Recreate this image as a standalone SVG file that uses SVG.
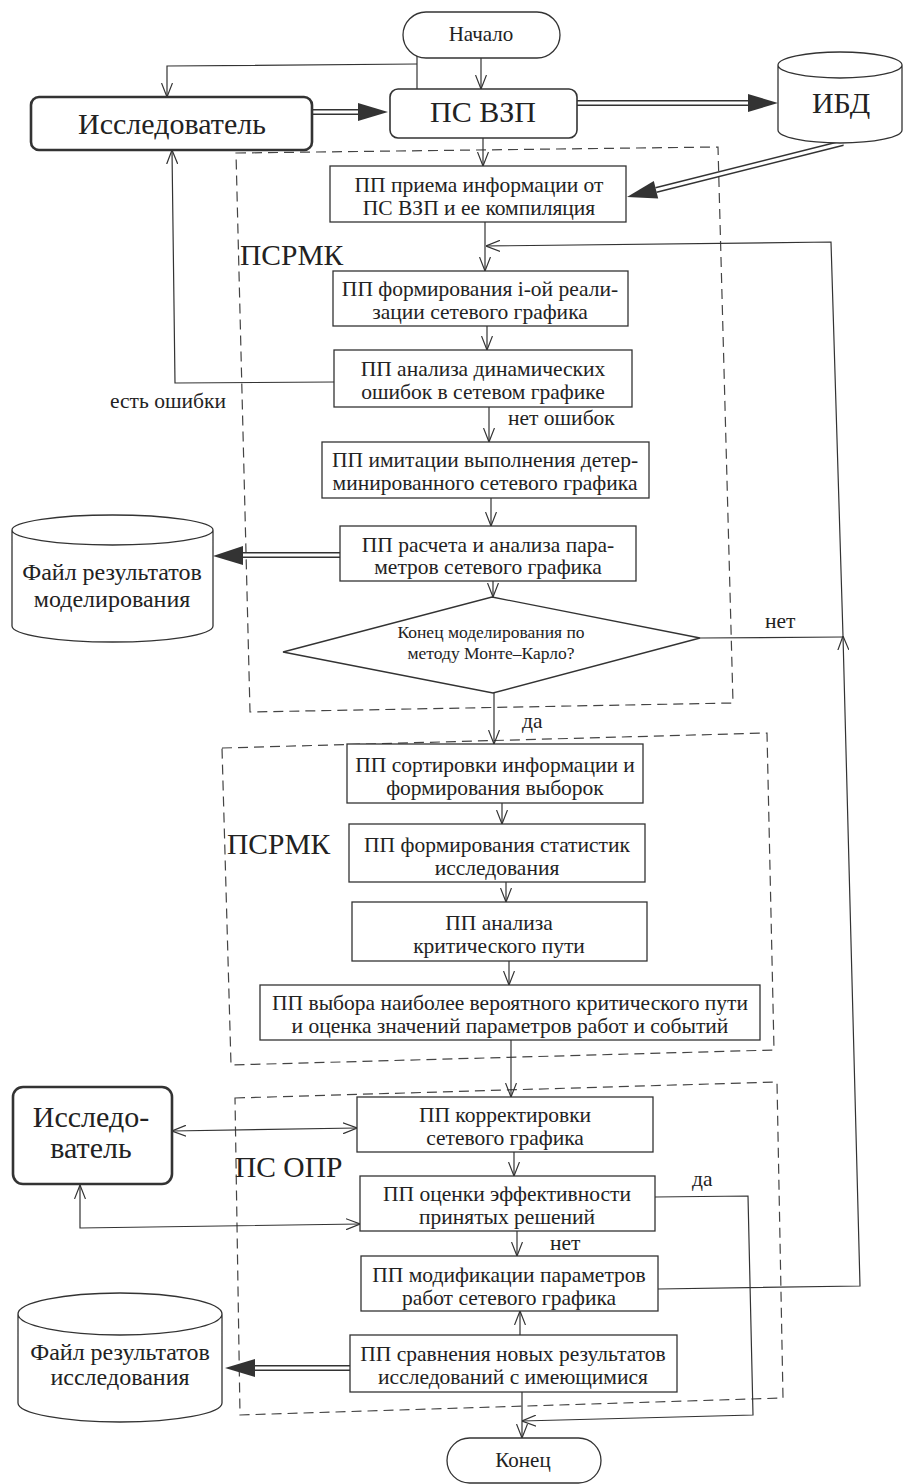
<svg xmlns="http://www.w3.org/2000/svg" width="903" height="1484" viewBox="0 0 903 1484">
<style>
.n{fill:#fff;stroke:#333;stroke-width:1.3}
.r{fill:#fff;stroke:#333;stroke-width:2.6}
.t{font-family:"Liberation Serif","Times New Roman","DejaVu Serif",serif;fill:#222;text-anchor:middle;font-size:21.5px}
.l{font-family:"Liberation Serif","Times New Roman","DejaVu Serif",serif;fill:#222;font-size:21.5px}
.big{font-size:29.5px}
.c{fill:none;stroke:#333;stroke-width:1.2}
.d{fill:none;stroke:#444;stroke-width:1.2;stroke-dasharray:10 6}
.dbo{fill:none;stroke:#333;stroke-width:6}
.dbi{fill:none;stroke:#fff;stroke-width:3}
.ah{fill:#333}
</style>
<defs>
<marker id="a" viewBox="0 0 14 12" refX="14" refY="6" markerWidth="14" markerHeight="12" markerUnits="userSpaceOnUse" orient="auto-start-reverse"><path d="M0,0.5 L14,6 L0,11.5" fill="none" stroke="#333" stroke-width="1.2"/></marker>
</defs>
<rect width="903" height="1484" fill="#fff"/>
<g id="containers">
<polygon class="d" points="236,153 718,147 733,703 250,712"/>
<text class="l big" x="240" y="265">ПСРМК</text>
<polygon class="d" points="222,748 767,733 774,1050 231,1065"/>
<text class="l big" x="227" y="854">ПСРМК</text>
<polygon class="d" points="235,1098 777,1082 783,1398 240,1415"/>
<text class="l big" x="235" y="1177">ПС ОПР</text>
</g>
<g id="connectors">
<path class="c" d="M481,58 L481,89" marker-end="url(#a)"/>
<path class="c" d="M417,56 L417,89"/>
<path class="c" d="M417,64 L167,66 L167,97" marker-end="url(#a)"/>
<path class="c" d="M483,138 L483,166" marker-end="url(#a)"/>
<path class="c" d="M485,222 L485,271" marker-end="url(#a)"/>
<path class="c" d="M487,326 L487,350" marker-end="url(#a)"/>
<path class="c" d="M334,382 L175,383 L172,150" marker-end="url(#a)"/>
<path class="c" d="M489,407 L489,442" marker-end="url(#a)"/>
<path class="c" d="M491,498 L491,526" marker-end="url(#a)"/>
<path class="c" d="M493,581 L493,597" marker-end="url(#a)"/>
<path class="c" d="M494,693 L494,744" marker-end="url(#a)"/>
<path class="c" d="M700,638 L843,637"/>
<path class="c" d="M658,1289 L860,1286 L843,636" marker-end="url(#a)"/>
<path class="c" d="M843,636 L831,242 L486,246" marker-end="url(#a)"/>
<path class="c" d="M502,803 L502,824" marker-end="url(#a)"/>
<path class="c" d="M506,882 L506,902" marker-end="url(#a)"/>
<path class="c" d="M509,961 L509,985" marker-end="url(#a)"/>
<path class="c" d="M511,1040 L511,1097" marker-end="url(#a)"/>
<path class="c" d="M172,1131 L357,1128" marker-start="url(#a)" marker-end="url(#a)"/>
<path class="c" d="M80,1185 L80,1228 L360,1224" marker-start="url(#a)" marker-end="url(#a)"/>
<path class="c" d="M514,1152 L514,1176" marker-end="url(#a)"/>
<path class="c" d="M655,1197 L748,1196 L753,1415 L522,1421" marker-end="url(#a)"/>
<path class="c" d="M517,1231 L517,1256" marker-end="url(#a)"/>
<path class="c" d="M520,1335 L520,1311" marker-end="url(#a)"/>
<path class="c" d="M522,1392 L522,1438" marker-end="url(#a)"/>
<path class="dbo" d="M312,112 L360,112"/><path class="dbi" d="M312,112 L361,112"/>
<polygon class="ah" points="388,112 358,103 358,121"/>
<path class="dbo" d="M577,103 L749,103"/><path class="dbi" d="M577,103 L750,103"/>
<polygon class="ah" points="778,103 748,94 748,112"/>
<path class="dbo" d="M843,143 L656,190"/><path class="dbi" d="M843,143 L655,190.3"/>
<polygon class="ah" points="627,197 658.2,198.4 653.8,181"/>
<path class="dbo" d="M340,555 L243,555"/><path class="dbi" d="M340,555 L242,555"/>
<polygon class="ah" points="213,556 243,546 243,565"/>
<path class="dbo" d="M350,1368 L254,1368"/><path class="dbi" d="M350,1368 L253,1368"/>
<polygon class="ah" points="225,1368 255,1359 255,1377"/>
<text class="l" x="110" y="408">есть ошибки</text>
<text class="l" x="508" y="425">нет ошибок</text>
<text class="l" x="765" y="628">нет</text>
<text class="l" x="522" y="728">да</text>
<text class="l" x="692" y="1186">да</text>
<text class="l" x="550" y="1250">нет</text>
</g>
<g id="start"><rect class="n" x="403" y="12" width="157" height="46" rx="23"/><text class="t" x="481" y="41" style="font-size:21px">Начало</text></g>
<g id="researcher1"><rect class="r" x="31" y="97" width="281" height="53" rx="8"/><text class="t" x="172" y="134" style="font-size:30px">Исследователь</text></g>
<g id="psvzp"><rect class="n" x="390" y="89" width="187" height="49" rx="8" style="stroke-width:1.6"/><text class="t" x="483" y="122" style="font-size:30px">ПС ВЗП</text></g>
<g id="ibd"><path class="n" d="M778,65 A62,13 0 0 1 902,65 L902,130 A62,13 0 0 1 778,130 Z M778,65 A62,13 0 0 0 902,65"/><text class="t" x="841" y="113" style="font-size:30px">ИБД</text></g>
<g id="pp-priema"><rect class="n" x="330" y="166" width="296" height="56"/><text class="t" x="479" y="192">ПП приема информации от</text><text class="t" x="479" y="215">ПС ВЗП и ее компиляция</text></g>
<g id="pp-form"><rect class="n" x="333" y="271" width="295" height="55"/><text class="t" x="480" y="296">ПП формирования i-ой реали-</text><text class="t" x="480" y="319">зации сетевого графика</text></g>
<g id="pp-anal"><rect class="n" x="334" y="350" width="298" height="57"/><text class="t" x="483" y="376">ПП анализа динамических</text><text class="t" x="483" y="399">ошибок в сетевом графике</text></g>
<g id="pp-imit"><rect class="n" x="322" y="442" width="327" height="56"/><text class="t" x="485" y="467">ПП имитации выполнения детер-</text><text class="t" x="485" y="490">минированного сетевого графика</text></g>
<g id="pp-rasch"><rect class="n" x="340" y="526" width="296" height="55"/><text class="t" x="488" y="552">ПП расчета и анализа пара-</text><text class="t" x="488" y="574">метров сетевого графика</text></g>
<g id="file1"><path class="n" d="M12,530 A100.5,15 0 0 1 213,530 L213,626 A100.5,16 0 0 1 12,626 Z M12,530 A100.5,15 0 0 0 213,530"/><text class="t" x="112" y="580" style="font-size:24px">Файл результатов</text><text class="t" x="112" y="607" style="font-size:24px">моделирования</text></g>
<g id="decision1"><polygon class="n" points="492,597 700,638 493,693 283,652"/><text class="t" x="491" y="638" style="font-size:17.5px">Конец моделирования по</text><text class="t" x="491" y="659" style="font-size:17.5px">методу Монте–Карло?</text></g>
<g id="pp-sort"><rect class="n" x="347" y="744" width="296" height="59"/><text class="t" x="495" y="772">ПП сортировки информации и</text><text class="t" x="495" y="795">формирования выборок</text></g>
<g id="pp-stat"><rect class="n" x="349" y="824" width="296" height="58"/><text class="t" x="497" y="852">ПП формирования статистик</text><text class="t" x="497" y="875">исследования</text></g>
<g id="pp-krit"><rect class="n" x="352" y="902" width="295" height="59"/><text class="t" x="499" y="930">ПП анализа</text><text class="t" x="499" y="953">критического пути</text></g>
<g id="pp-vybor"><rect class="n" x="260" y="985" width="500" height="55"/><text class="t" x="510" y="1010">ПП выбора наиболее вероятного критического пути</text><text class="t" x="510" y="1033">и оценка значений параметров работ и событий</text></g>
<g id="researcher2"><rect class="r" x="13" y="1087" width="159" height="97" rx="10"/><text class="t" x="91" y="1127" style="font-size:30px">Исследо-</text><text class="t" x="91" y="1158" style="font-size:30px">ватель</text></g>
<g id="pp-korr"><rect class="n" x="357" y="1097" width="296" height="55"/><text class="t" x="505" y="1122">ПП корректировки</text><text class="t" x="505" y="1145">сетевого графика</text></g>
<g id="pp-ocen"><rect class="n" x="360" y="1176" width="295" height="55"/><text class="t" x="507" y="1201">ПП оценки эффективности</text><text class="t" x="507" y="1224">принятых решений</text></g>
<g id="pp-modif"><rect class="n" x="361" y="1256" width="297" height="55"/><text class="t" x="509" y="1282">ПП модификации параметров</text><text class="t" x="509" y="1305">работ сетевого графика</text></g>
<g id="pp-sravn"><rect class="n" x="350" y="1335" width="327" height="57"/><text class="t" x="513" y="1361">ПП сравнения новых результатов</text><text class="t" x="513" y="1384">исследований с имеющимися</text></g>
<g id="file2"><path class="n" d="M18,1314 A102,21 0 0 1 222,1314 L222,1403 A102,19 0 0 1 18,1403 Z M18,1314 A102,21 0 0 0 222,1314"/><text class="t" x="120" y="1360" style="font-size:24px">Файл результатов</text><text class="t" x="120" y="1385" style="font-size:24px">исследования</text></g>
<g id="end"><rect class="n" x="447" y="1438" width="154" height="45" rx="22.5"/><text class="t" x="523" y="1467" style="font-size:21px">Конец</text></g>
</svg>
